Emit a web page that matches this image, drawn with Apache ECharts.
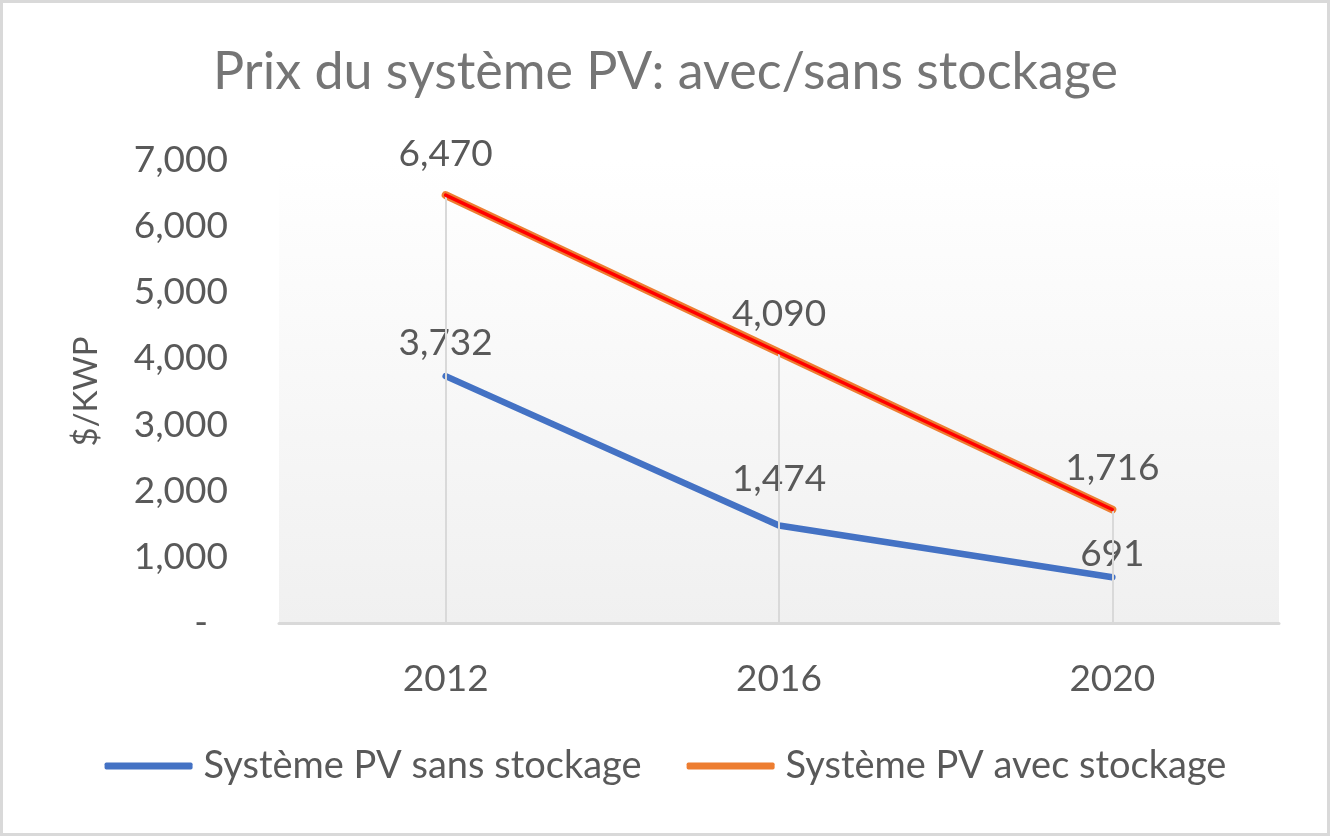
<!DOCTYPE html>
<html><head><meta charset="utf-8">
<script src="https://cdn.jsdelivr.net/npm/echarts@6/dist/echarts.min.js"></script>
<style>html,body{margin:0;padding:0;background:#fff}#c{width:1331px;height:837px}</style>
</head><body><div id="c"></div>
<script>
const categories = ['2012', '2016', '2020'];
const sansStockage = [3732, 1474, 691];
const avecStockage = [6470, 4090, 1716];
const seriesNames = ['Système PV sans stockage', 'Système PV avec stockage'];
const titleText = 'Prix du système PV: avec/sans stockage';
const yAxisName = '$/KWP';

const FONT = 'Lato';
const FS = 37;
const BLUE = '#4472c4', ORANGE = '#ed7d31';
const labelFmt = p => p.value.toLocaleString('en-US');
const sansDist = [15, 28, 5];
const avecDist = [22, 20, 23];

const labelStyle = { show: true, position: 'top', formatter: labelFmt, fontFamily: FONT, fontSize: FS, color: '#595959' };
const hiddenSymbol = { symbol: 'circle', symbolSize: 0.01, showSymbol: true, itemStyle: { color: 'rgba(0,0,0,0)' } };

const chart = echarts.init(document.getElementById('c'));
chart.setOption({
  animation: false,
  textStyle: { fontFamily: FONT },
  title: {
    text: titleText, left: 'center', top: 41,
    textStyle: { fontFamily: FONT, fontSize: 52, fontWeight: 'normal', color: '#757575' }
  },
  graphic: [{
    type: 'rect', silent: true, z: -10,
    shape: { x: 1.5, y: 1.5, width: 1327, height: 833 },
    style: { fill: 'none', stroke: '#d9d9d9', lineWidth: 3 }
  }],
  grid: {
    left: 279, right: 52, top: 160, bottom: 214, show: true, borderWidth: 0,
    backgroundColor: new echarts.graphic.LinearGradient(0, 0, 0, 1, [
      { offset: 0, color: '#ffffff' }, { offset: 1, color: '#f0f0f0' }
    ])
  },
  legend: {
    bottom: 47, left: 'center', icon: 'roundRect', itemWidth: 88, itemHeight: 7, itemGap: 45,
    data: [
      { name: seriesNames[0], itemStyle: { color: BLUE } },
      { name: seriesNames[1], itemStyle: { color: ORANGE } }
    ],
    textStyle: { fontFamily: FONT, fontSize: 38, color: '#595959', padding: [0, 0, 0, 6] }
  },
  xAxis: {
    type: 'category', data: categories, boundaryGap: true,
    axisLine: { lineStyle: { color: '#d9d9d9', width: 3 } },
    axisTick: { show: false },
    axisLabel: { fontFamily: FONT, fontSize: FS, color: '#595959', margin: 38 },
    splitLine: { show: false }
  },
  yAxis: {
    type: 'value', min: 0, max: 7000, interval: 1000,
    name: yAxisName, nameLocation: 'middle', nameGap: 176, nameRotate: 90,
    nameTextStyle: { fontFamily: FONT, fontSize: 33, color: '#595959' },
    axisLine: { show: false }, axisTick: { show: false }, splitLine: { show: false },
    axisLabel: {
      fontFamily: FONT, fontSize: FS, color: '#595959', margin: 51,
      formatter: v => v === 0 ? '{z|-}' : v.toLocaleString('en-US'),
      rich: { z: { fontFamily: FONT, fontSize: FS, color: '#595959', padding: [0, 20, 0, 0] } }
    }
  },
  series: [
    Object.assign({
      name: seriesNames[0], type: 'line',
      data: sansStockage.map((v, i) => ({ value: v, label: { distance: sansDist[i] } })),
      lineStyle: { color: BLUE, width: 6.5, cap: 'round' },
      label: labelStyle, z: 3
    }, hiddenSymbol),
    Object.assign({
      name: seriesNames[1], type: 'line',
      data: avecStockage.map((v, i) => ({ value: v, label: { distance: avecDist[i] } })),
      lineStyle: { color: ORANGE, width: 8, cap: 'round' },
      label: labelStyle,
      markLine: {
        silent: true, symbol: 'none', label: { show: false },
        lineStyle: { color: '#d9d9d9', width: 2, type: 'solid' },
        data: categories.map((c, i) => [{ coord: [i, 0] }, { coord: [i, Math.max(avecStockage[i], sansStockage[i])] }])
      },
      z: 4
    }, hiddenSymbol),
    {
      name: 'avec-core', type: 'line', data: avecStockage, symbol: 'none',
      lineStyle: { color: '#ff0000', width: 3.5, cap: 'round' }, z: 5
    }
  ]
});
</script></body></html>
